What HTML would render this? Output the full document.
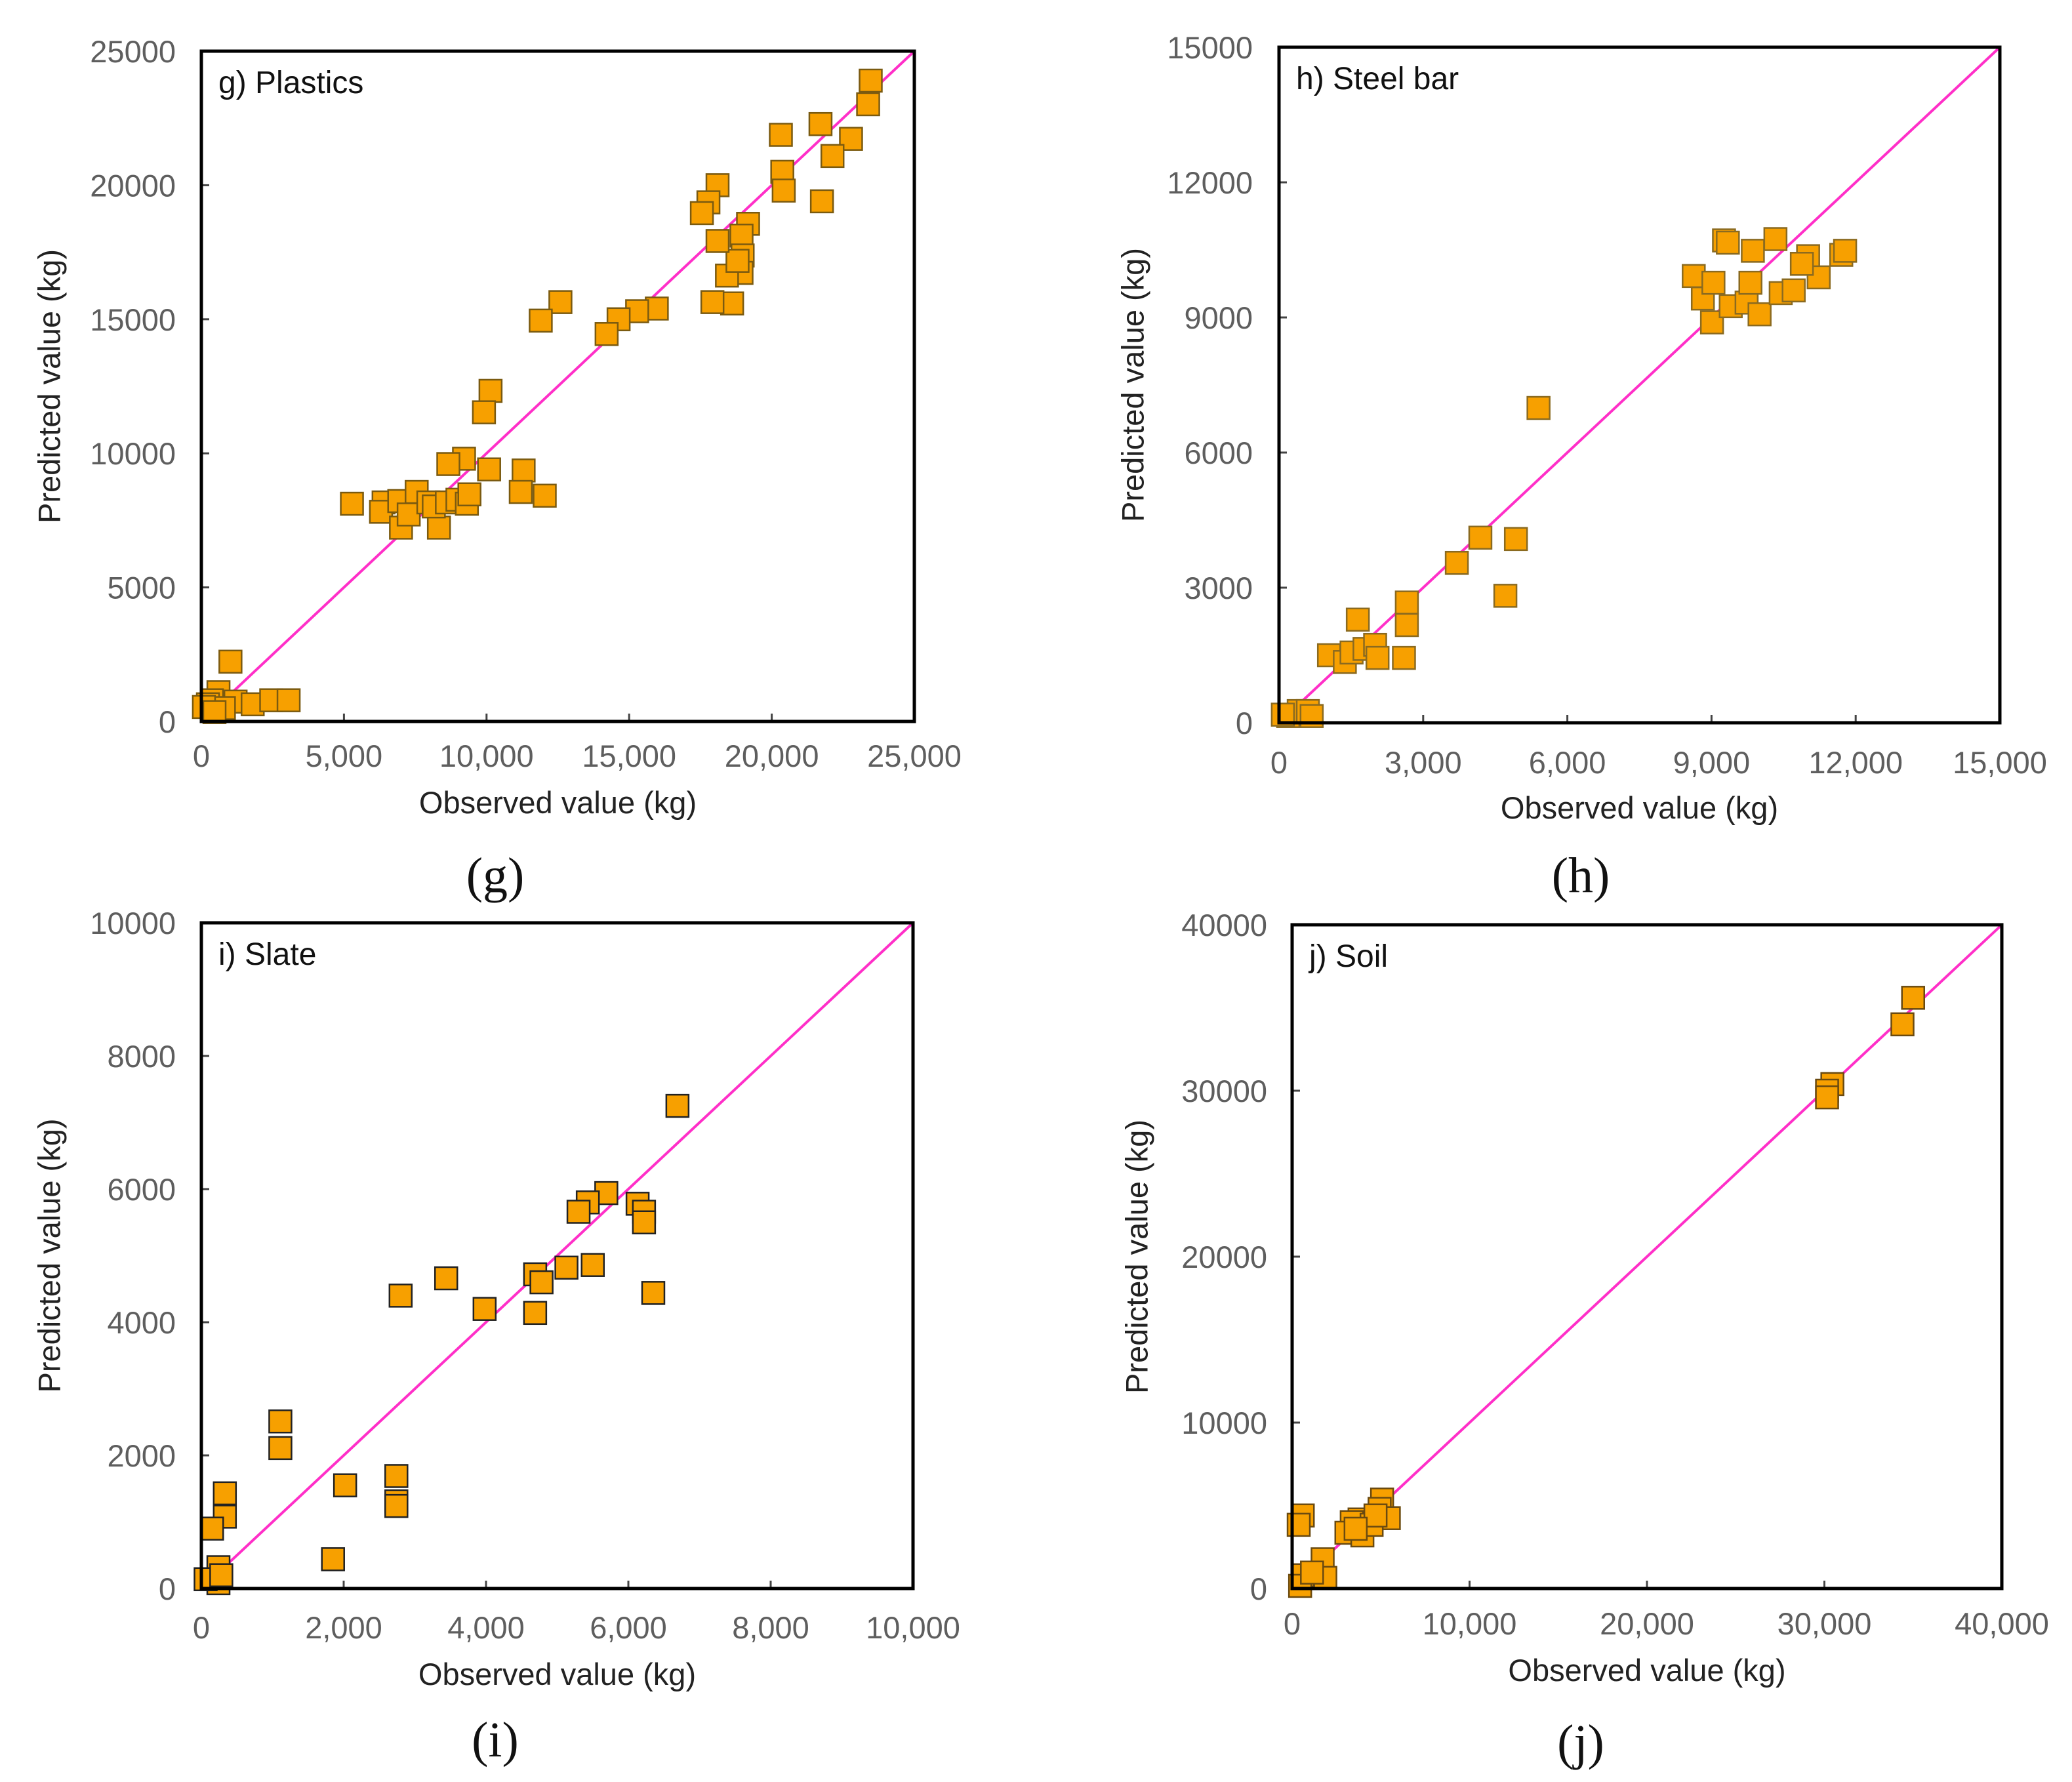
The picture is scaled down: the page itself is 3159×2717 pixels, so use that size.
<!DOCTYPE html>
<html><head><meta charset="utf-8">
<style>
html,body{margin:0;padding:0;background:#fff;}
svg{display:block;}
.tick{font-family:"Liberation Sans",sans-serif;font-size:47px;fill:#5e5e5e;}
.atitle{font-family:"Liberation Sans",sans-serif;font-size:47px;fill:#222;}
.ptitle{font-family:"Liberation Sans",sans-serif;font-size:48px;fill:#111;}
.cap{font-family:"Liberation Serif",serif;font-size:76px;fill:#111;}
</style></head>
<body>
<svg id="fig" width="3159" height="2717" viewBox="0 0 3159 2717" xmlns="http://www.w3.org/2000/svg"></svg>
<script>
// ---- data: g) Plastics ----
const gObserved = [23470,23380,22780,22130,21710,21760,20320,20370,20420,19170,18940,18980,18940,18610,18430,18800,18100,18100,17920,17780,17550,15970,15280,14630,14210,12590,11900,10140,9910,9210,8660,10090,11300,11200,12040,5280,6390,6300,6940,7000,7270,7550,7960,8330,8150,8610,8980,9310,9400,1020,600,370,230,1200,1800,2450,3060,790,90,460];
const gPredicted = [23900,23020,21730,21090,22280,19400,21880,20500,19800,18560,18120,17380,16730,15590,16630,17180,20000,17920,15640,19360,18960,15400,15300,15000,14450,15640,14950,12330,11530,9800,9600,9400,9360,8560,8420,8120,8170,7820,8220,7230,7720,8560,8170,7230,8020,8170,8270,8120,8470,2230,1090,790,640,740,640,790,790,500,540,350];
const gTicks = [0,5000,10000,15000,20000,25000];
// ---- data: h) Steel bar ----
const hObserved = [2660,2600,1640,2660,1040,1370,1510,1780,2000,2050,3700,4190,4930,4710,5400,8630,8820,9040,9010,9260,9340,9400,9730,9810,9860,10000,10330,10440,10710,11010,11230,10880,11700,11780,190,410,600,80,680];
const hPredicted = [2670,1440,2290,2170,1500,1350,1560,1640,1730,1440,3550,4110,4080,2820,6990,9920,9420,9770,8890,10710,10660,9250,9330,9770,10480,9070,10740,9540,9600,10360,9890,10190,10390,10480,150,260,260,180,150];
const hTicks = [0,3000,6000,9000,12000,15000];
// ---- data: i) Slate ----
const iObserved = [6690,5690,5430,5300,6130,6220,6220,5500,5130,4690,4780,4690,3980,3440,2800,6350,1110,1110,2020,2740,2740,2740,1850,330,330,150,240,240,60,280];
const iPredicted = [7250,5940,5800,5660,5780,5660,5500,4860,4820,4720,4600,4140,4200,4660,4400,4440,2510,2110,1550,1690,1310,1240,440,1430,1080,900,320,80,140,200];
const iTicks = [0,2000,4000,6000,8000,10000];
// ---- data: j) Soil ----
const jObserved = [35000,34400,30450,30150,30150,600,370,5070,4930,5450,3800,3360,3060,3960,4480,4700,1720,1870,600,450,1120,3580];
const jPredicted = [35600,34000,30400,30000,29600,4400,3840,5360,4800,4240,4160,4000,3360,3200,3840,4400,1760,640,800,160,960,3600];
const jTicks = [0,10000,20000,30000,40000];

const NS = "http://www.w3.org/2000/svg";
const svg = document.getElementById('fig');
function mk(tag, attrs, parent, text){
  const e = document.createElementNS(NS, tag);
  for (const k in attrs) e.setAttribute(k, attrs[k]);
  if (text !== undefined) e.textContent = text;
  (parent || svg).appendChild(e);
  return e;
}
function fmt(v){ return v.toLocaleString('en-US'); }

const panels = [
  {key:'g', title:'g) Plastics', cap:'(g)', xs:gObserved, ys:gPredicted, ticks:gTicks, max:25000,
   L:307, R:1394, T:78, B:1100, yLabX:268, yTitleX:75, xLabY:1169, xTitleY:1240, capY:1360, capX:755, stroke:'#7a5a10'},
  {key:'h', title:'h) Steel bar', cap:'(h)', xs:hObserved, ys:hPredicted, ticks:hTicks, max:15000,
   L:1950, R:3049, T:72, B:1102, yLabX:1910, yTitleX:1727, xLabY:1179, xTitleY:1248, capY:1360, capX:2410, stroke:'#8a6a20'},
  {key:'i', title:'i) Slate', cap:'(i)', xs:iObserved, ys:iPredicted, ticks:iTicks, max:10000,
   L:307, R:1392, T:1407, B:2422, yLabX:268, yTitleX:75, xLabY:2498, xTitleY:2569, capY:2678, capX:755, stroke:'#222'},
  {key:'j', title:'j) Soil', cap:'(j)', xs:jObserved, ys:jPredicted, ticks:jTicks, max:40000,
   L:1970, R:3052, T:1410, B:2422, yLabX:1932, yTitleX:1733, xLabY:2492, xTitleY:2563, capY:2682, capX:2410, stroke:'#6a4a10'}
];

panels.forEach(p => {
  const g = mk('g', {});
  
  
  const xs = v => p.L + (v / p.max) * (p.R - p.L);
  const ys = v => p.B - (v / p.max) * (p.B - p.T);
  // ticks + labels
  p.ticks.forEach(t => {
    const tx = mk('line', {x1:xs(t), x2:xs(t), y1:p.B, y2:p.B-12, stroke:'#444', 'stroke-width':3}, g);
    
    
    const ty = mk('line', {x1:p.L, x2:p.L+12, y1:ys(t), y2:ys(t), stroke:'#444', 'stroke-width':3}, g);
    
    
    const xl = mk('text', {x:xs(t), y:p.xLabY, 'text-anchor':'middle', class:'tick'}, g, fmt(t));
    
    
    const yl = mk('text', {x:p.yLabX, y:ys(t)+17, 'text-anchor':'end', class:'tick'}, g, String(t));
    
    
  });
  // 1:1 line
  const d = mk('line', {x1:xs(0), y1:ys(0), x2:xs(p.max), y2:ys(p.max), stroke:'#ff2fc8', 'stroke-width':4}, g);
  
  
  // points
  const s = 34;
  p.xs.forEach((xv, i) => {
    const r = mk('rect', {x:xs(xv)-s/2, y:ys(p.ys[i])-s/2, width:s, height:s, fill:'#f7a000', stroke:p.stroke, 'stroke-width':2.5}, g);
    
    
  });
  // frame
  const f = mk('rect', {x:p.L, y:p.T, width:p.R-p.L, height:p.B-p.T, fill:'none', stroke:'#000', 'stroke-width':5}, g);
  
  
  const pt = mk('text', {x:p.L+26, y:p.T+64, class:'ptitle'}, g, p.title);
  
  
  const xt = mk('text', {x:(p.L+p.R)/2, y:p.xTitleY, 'text-anchor':'middle', class:'atitle'}, g, 'Observed value (kg)');
  
  
  const cy = (p.T+p.B)/2;
  const yt = mk('text', {x:p.yTitleX, y:cy, 'text-anchor':'middle', 'dominant-baseline':'central', class:'atitle', transform:'rotate(-90 '+p.yTitleX+' '+cy+')'}, g, 'Predicted value (kg)');
  
  
  const c = mk('text', {x:p.capX, y:p.capY, 'text-anchor':'middle', class:'cap'}, g, p.cap);
  
  
});
</script>
</body></html>
